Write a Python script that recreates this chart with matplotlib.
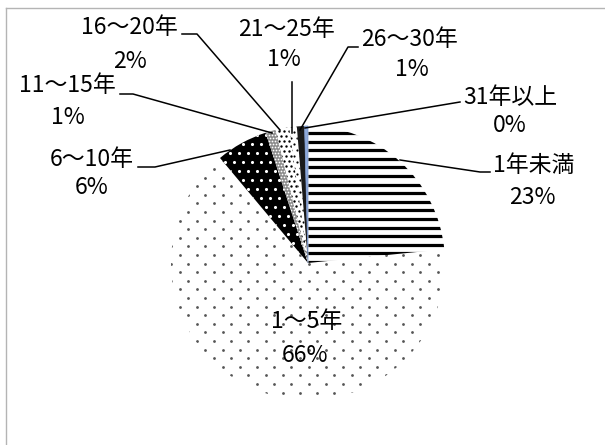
import matplotlib

matplotlib.use("Agg")
import matplotlib.pyplot as plt
import numpy as np
from matplotlib.collections import LineCollection

plt.rcParams["font.family"] = ["Noto Sans CJK JP", "DejaVu Sans"]

W, H = 605, 445

categories = ["1年未満", "1～5年", "6～10年", "11～15年", "16～20年", "21～25年", "26～30年", "31年以上"]
shares = [23.4, 65.5, 6.1, 1.2, 1.6, 0.9, 0.9, 0.4]

# pie geometry in pixels (y measured from the top)
CX, CY, R = 308, 263, 137

# label name / percent centres and leader polylines, pixels from the top-left
name_pos = [(534, 165), (307, 322), (92, 160), (67, 85), (129, 28), (286, 30), (409, 40), (510, 97)]
pct_pos = [(532, 197), (305, 355), (92, 188), (68, 118), (130, 61), (284, 60), (412, 70), (510, 125)]
leaders = [
    [(490, 172), (480, 172), (400, 160)],
    None,
    [(138, 167), (155, 167), (230, 150)],
    [(120, 94), (133, 94), (272, 133)],
    [(182, 34), (197, 34), (280, 130)],
    [(292, 82), (292, 133)],
    [(358, 47), (348, 47), (300, 130)],
    [(460, 102), (305, 128)],
]
faces = ["white", "white", "black", "#8c8c8c", "white", "white", "#1a1a1a", "#8eaadb"]


def fy(y):
    return H - y


def dots(ax, wedge, dx, dy, size, color, stagger=True):
    pts = []
    for i, y in enumerate(np.arange(CY - R - 2 * dy, CY + R + 2 * dy, dy)):
        off = dx / 2 if (stagger and i % 2) else 0
        for x in np.arange(CX - R - dx + off, CX + R + dx, dx):
            pts.append((x, fy(y)))
    pts = np.array(pts)
    sc = ax.scatter(pts[:, 0], pts[:, 1], s=size, c=color, linewidths=0, zorder=3)
    sc.set_clip_path(wedge)


def stripes(ax, wedge, step, lw):
    ys = np.arange(CY - 1, CY - R - step, -step)
    segs = [[(CX, fy(y)), (CX + R + 5, fy(y))] for y in ys]
    lc = LineCollection(segs, colors="black", linewidths=lw, zorder=3)
    ax.add_collection(lc)
    lc.set_clip_path(wedge)


fig = plt.figure(figsize=(W / 100, H / 100), dpi=100)
ax = fig.add_axes([0, 0, 1, 1])

wedges, _ = ax.pie(
    shares,
    startangle=90,
    counterclock=False,
    center=(CX, fy(CY)),
    radius=R,
    colors=faces,
    wedgeprops=dict(linewidth=0),
)
wedges[7].set_edgecolor("#7590c4")
wedges[7].set_linewidth(0.5)

stripes(ax, wedges[0], 8.6, 2.3)
dots(ax, wedges[1], 17.2, 8.6, 4, "#555555")
dots(ax, wedges[2], 9.0, 9.0, 5, "white")
dots(ax, wedges[3], 3.0, 3.0, 1.5, "white")
dots(ax, wedges[4], 5.0, 5.0, 3, "black")
dots(ax, wedges[5], 6.0, 6.0, 2.5, "black")

for i, cat in enumerate(categories):
    nx, ny = name_pos[i]
    px, py = pct_pos[i]
    ax.text(nx, fy(ny), cat, ha="center", va="center", fontsize=16.5, color="black", zorder=5)
    ax.text(px, fy(py), f"{shares[i]:.0f}%", ha="center", va="center", fontsize=16.5,
            color="black", zorder=5)
    if leaders[i]:
        xs, ys = zip(*leaders[i])
        ax.plot(xs, [fy(v) for v in ys], color="black", lw=1.1, zorder=4)

# chart area frame (right and bottom run off the picture)
ax.plot([6, 6], [-20, fy(8)], color="#b4b4b4", lw=1.0, zorder=1)
ax.plot([6, W + 20], [fy(8), fy(8)], color="#b4b4b4", lw=1.0, zorder=1)

ax.set_xlim(0, W)
ax.set_ylim(0, H)
ax.set_aspect("equal")
ax.axis("off")

fig.savefig("out.png", dpi=100)
